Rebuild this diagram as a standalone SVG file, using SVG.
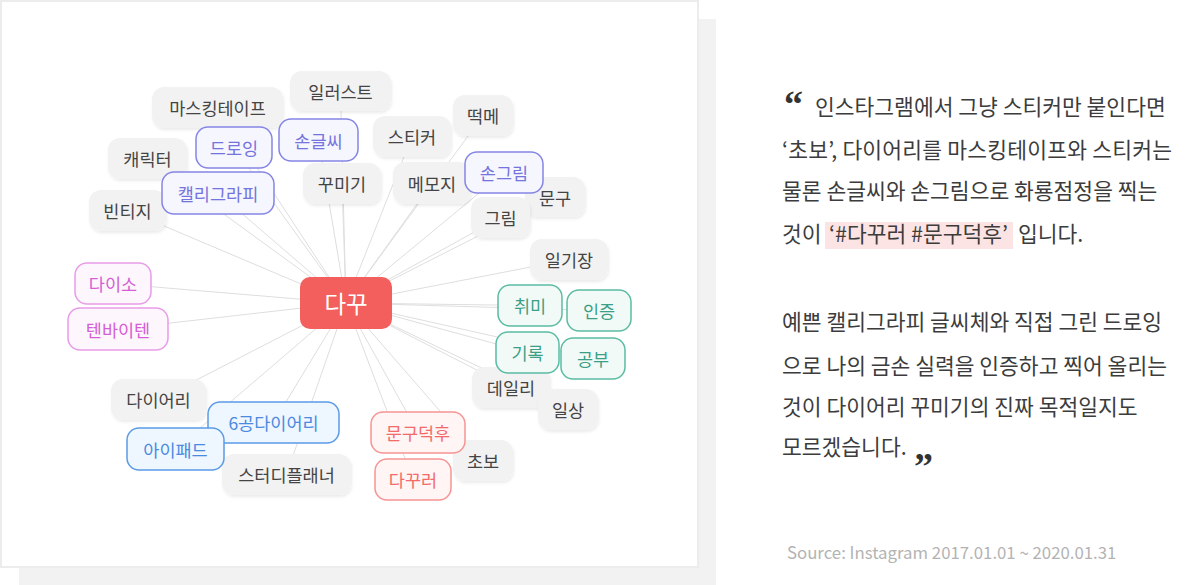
<svg xmlns="http://www.w3.org/2000/svg" width="1201" height="585" viewBox="0 0 1201 585">
<defs>
<filter id="sh" x="-20%" y="-20%" width="140%" height="150%">
<feDropShadow dx="1" dy="2" stdDeviation="1.5" flood-color="#000" flood-opacity="0.08"/>
</filter>
</defs>
<style>
text{font-family:"Noto Sans CJK KR","Noto Sans",sans-serif;}
.n text{font-size:17.5px;text-anchor:middle;dominant-baseline:central;}
.g rect{fill:#f2f2f2;filter:url(#sh);}
.g text{fill:#444444;}
.p rect{fill:#f6f6ff;stroke:#8585e6;stroke-width:1.5;}
.p text{fill:#7474dc;}
.m rect{fill:#fdf6fd;stroke:#e89ce8;stroke-width:1.5;}
.m text{fill:#d45fd4;}
.t rect{fill:#f2faf7;stroke:#5bbca3;stroke-width:1.5;}
.t text{fill:#3a9f85;}
.b rect{fill:#eef6ff;stroke:#5b9be6;stroke-width:1.5;}
.b text{fill:#4a8ae0;}
.r rect{fill:#fff5f5;stroke:#f79494;stroke-width:1.5;}
.r text{fill:#f26a6a;}
.conn line{stroke:#dedede;stroke-width:1;}
.para{font-size:21.5px;fill:#3c3c3c;}
.q{font-family:Georgia,"Liberation Serif",serif;font-size:38px;font-weight:bold;fill:#333333;}
</style>
<rect x="19" y="19" width="697" height="566" fill="#f2f2f2"/>
<rect x="1" y="1" width="697" height="566" fill="#ffffff" stroke="#ececec" stroke-width="2"/>
<g id="connectors" class="conn">
<line x1="346" y1="303" x2="217.5" y2="107.5"/>
<line x1="346" y1="303" x2="340.5" y2="91"/>
<line x1="346" y1="303" x2="147.5" y2="158.5"/>
<line x1="346" y1="303" x2="127.5" y2="210.5"/>
<line x1="346" y1="303" x2="342" y2="183.5"/>
<line x1="346" y1="303" x2="412" y2="136.5"/>
<line x1="346" y1="303" x2="483" y2="115.5"/>
<line x1="346" y1="303" x2="432" y2="183"/>
<line x1="346" y1="303" x2="555" y2="197"/>
<line x1="346" y1="303" x2="500.5" y2="217.5"/>
<line x1="346" y1="303" x2="569" y2="259.5"/>
<line x1="346" y1="303" x2="511" y2="387.5"/>
<line x1="346" y1="303" x2="568" y2="409.5"/>
<line x1="346" y1="303" x2="483" y2="460.5"/>
<line x1="346" y1="303" x2="158.5" y2="399.5"/>
<line x1="346" y1="303" x2="286.5" y2="474.5"/>
<line x1="346" y1="303" x2="234" y2="147.5"/>
<line x1="346" y1="303" x2="318.5" y2="140"/>
<line x1="346" y1="303" x2="218" y2="193"/>
<line x1="346" y1="303" x2="504" y2="172.5"/>
<line x1="346" y1="303" x2="113" y2="283.5"/>
<line x1="346" y1="303" x2="118" y2="329"/>
<line x1="346" y1="303" x2="530" y2="305.5"/>
<line x1="346" y1="303" x2="599" y2="310.5"/>
<line x1="346" y1="303" x2="527.5" y2="352.5"/>
<line x1="346" y1="303" x2="593" y2="358.5"/>
<line x1="346" y1="303" x2="273.5" y2="422.5"/>
<line x1="346" y1="303" x2="175.5" y2="449"/>
<line x1="346" y1="303" x2="418" y2="432.5"/>
<line x1="346" y1="303" x2="413" y2="479.5"/>
</g>
<g id="n-masking" class="n g"><rect x="152" y="87" width="131" height="41" rx="12"/><text x="217.5" y="107.5">마스킹테이프</text></g>
<g id="n-illust" class="n g"><rect x="290" y="71" width="101" height="40" rx="12"/><text x="340.5" y="91">일러스트</text></g>
<g id="n-character" class="n g"><rect x="108" y="138" width="79" height="41" rx="12"/><text x="147.5" y="158.5">캐릭터</text></g>
<g id="n-vintage" class="n g"><rect x="89" y="190" width="77" height="41" rx="12"/><text x="127.5" y="210.5">빈티지</text></g>
<g id="n-kkumigi" class="n g"><rect x="303" y="163" width="78" height="41" rx="12"/><text x="342" y="183.5">꾸미기</text></g>
<g id="n-sticker" class="n g"><rect x="373" y="116" width="78" height="41" rx="12"/><text x="412" y="136.5">스티커</text></g>
<g id="n-ddeokme" class="n g"><rect x="453" y="95" width="60" height="41" rx="12"/><text x="483" y="115.5">떡메</text></g>
<g id="n-memoji" class="n g"><rect x="393" y="162" width="78" height="42" rx="12"/><text x="432" y="183">메모지</text></g>
<g id="n-mungu" class="n g"><rect x="525" y="177" width="60" height="40" rx="12"/><text x="555" y="197">문구</text></g>
<g id="n-geurim" class="n g"><rect x="471" y="197" width="59" height="41" rx="12"/><text x="500.5" y="217.5">그림</text></g>
<g id="n-ilgijang" class="n g"><rect x="530" y="239" width="78" height="41" rx="12"/><text x="569" y="259.5">일기장</text></g>
<g id="n-daily" class="n g"><rect x="472" y="367" width="78" height="41" rx="12"/><text x="511" y="387.5">데일리</text></g>
<g id="n-ilsang" class="n g"><rect x="538" y="389" width="60" height="41" rx="12"/><text x="568" y="409.5">일상</text></g>
<g id="n-chobo" class="n g"><rect x="453" y="440" width="60" height="41" rx="12"/><text x="483" y="460.5">초보</text></g>
<g id="n-diary" class="n g"><rect x="111" y="379" width="95" height="41" rx="12"/><text x="158.5" y="399.5">다이어리</text></g>
<g id="n-planner" class="n g"><rect x="222" y="454" width="129" height="41" rx="12"/><text x="286.5" y="474.5">스터디플래너</text></g>
<g id="n-drawing" class="n p"><rect x="196" y="127" width="76" height="41" rx="12"/><text x="234" y="147.5">드로잉</text></g>
<g id="n-handwriting" class="n p"><rect x="279" y="119" width="79" height="42" rx="12"/><text x="318.5" y="140">손글씨</text></g>
<g id="n-calligraphy" class="n p"><rect x="162" y="172" width="112" height="42" rx="12"/><text x="218" y="193">캘리그라피</text></g>
<g id="n-handdrawing" class="n p"><rect x="465" y="152" width="78" height="41" rx="12"/><text x="504" y="172.5">손그림</text></g>
<g id="n-daiso" class="n m"><rect x="75" y="263" width="76" height="41" rx="12"/><text x="113" y="283.5">다이소</text></g>
<g id="n-tenbyten" class="n m"><rect x="68" y="308" width="100" height="42" rx="12"/><text x="118" y="329">텐바이텐</text></g>
<g id="n-hobby" class="n t"><rect x="498" y="285" width="64" height="41" rx="12"/><text x="530" y="305.5">취미</text></g>
<g id="n-proof" class="n t"><rect x="567" y="290" width="64" height="41" rx="12"/><text x="599" y="310.5">인증</text></g>
<g id="n-record" class="n t"><rect x="496" y="332" width="63" height="41" rx="12"/><text x="527.5" y="352.5">기록</text></g>
<g id="n-study" class="n t"><rect x="561" y="338" width="64" height="41" rx="12"/><text x="593" y="358.5">공부</text></g>
<g id="n-6hole" class="n b"><rect x="208" y="402" width="131" height="41" rx="12"/><text x="273.5" y="422.5">6공다이어리</text></g>
<g id="n-ipad" class="n b"><rect x="127" y="428" width="97" height="42" rx="12"/><text x="175.5" y="449">아이패드</text></g>
<g id="n-munguduckhu" class="n r"><rect x="371" y="412" width="94" height="41" rx="12"/><text x="418" y="432.5">문구덕후</text></g>
<g id="n-dakkureo" class="n r"><rect x="375" y="459" width="76" height="41" rx="12"/><text x="413" y="479.5">다꾸러</text></g>
<g id="n-center"><rect x="300" y="277" width="92" height="52" rx="10" fill="#f25f5c"/><text x="346" y="303" font-size="23.5" fill="#ffffff" text-anchor="middle" dominant-baseline="central">다꾸</text></g>
<g id="quote">
<rect x="825" y="222" width="188" height="27" fill="#fde4e4"/>
<text class="q" x="784" y="117">“</text>
<text class="para" x="815" y="115">인스타그램에서 그냥 스티커만 붙인다면</text>
<text class="para" x="782" y="158" textLength="390" lengthAdjust="spacing">‘초보’, 다이어리를 마스킹테이프와 스티커는</text>
<text class="para" x="782" y="199">물론 손글씨와 손그림으로 화룡점정을 찍는</text>
<text class="para" y="242"><tspan x="782">것이</tspan><tspan x="829">‘#다꾸러 #문구덕후’</tspan><tspan x="1018">입니다.</tspan></text>
<text class="para" x="782" y="330">예쁜 캘리그라피 글씨체와 직접 그린 드로잉</text>
<text class="para" x="782" y="374">으로 나의 금손 실력을 인증하고 찍어 올리는</text>
<text class="para" x="782" y="415">것이 다이어리 꾸미기의 진짜 목적일지도</text>
<text class="para" x="782" y="455">모르겠습니다.</text>
<text class="q" x="914" y="479">”</text>
<text x="787" y="559" font-size="16.8" fill="#b3b3b3">Source: Instagram 2017.01.01 ~ 2020.01.31</text>
</g>
</svg>
